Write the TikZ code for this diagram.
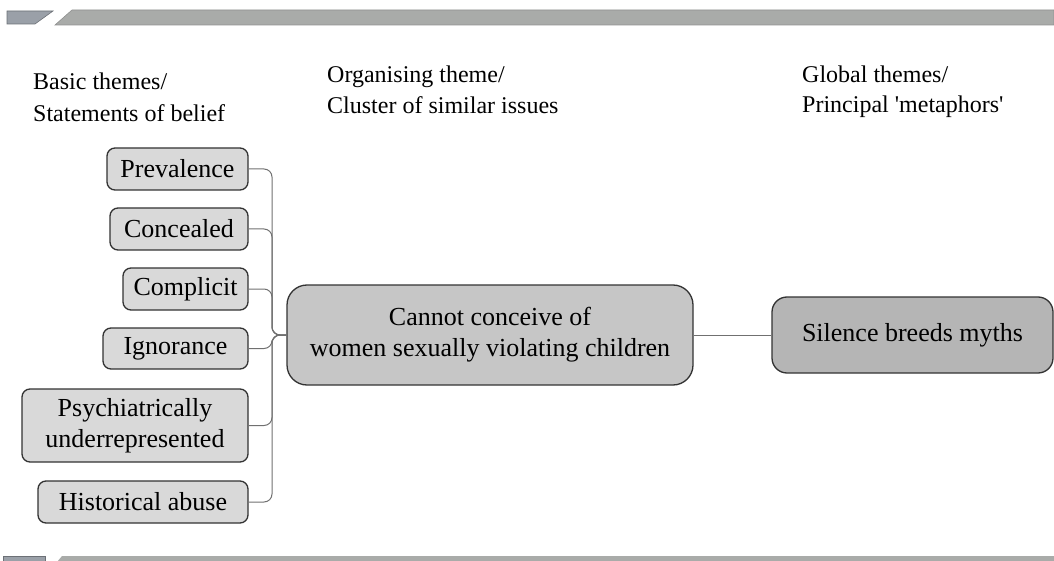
\documentclass[tikz,border=0pt]{standalone}
\usepackage{fontspec}
\setmainfont{Liberation Serif}
\definecolor{leafgray}{HTML}{D9D9D9}
\definecolor{midgray}{HTML}{C6C6C6}
\definecolor{topgray}{HTML}{B5B5B5}
\definecolor{linegray}{HTML}{707070}
\definecolor{bargray}{HTML}{A9ABA9}
\definecolor{barblue}{HTML}{9AA0A8}
\begin{document}
\begin{tikzpicture}[x=1pt,y=-1pt,
  box/.style={draw=black!80, line width=1.3pt, align=center, inner sep=0pt,
    font=\fontsize{26}{31}\selectfont},
  leaf/.style={box, fill=leafgray, rounded corners=8pt},
  org/.style={box, fill=midgray, rounded corners=20pt},
  glob/.style={box, fill=topgray, rounded corners=15pt},
  hdr/.style={anchor=base west, inner sep=0pt, font=\fontsize{24}{30}\selectfont},
  link/.style={draw=linegray, line width=1pt, rounded corners=8pt}]
\useasboundingbox (0,0) rectangle (1054,561);
% decorative bars
\fill[barblue, draw=barblue!70!black, line width=0.6pt] (7,11) -- (53,11) -- (35,24) -- (7,24) -- cycle;
\fill[bargray, draw=bargray!85!black, line width=0.6pt] (72,10) -- (1054,10) -- (1054,25) -- (55,25) -- cycle;
\fill[barblue, draw=barblue!70!black, line width=0.6pt] (3,556) -- (45,556) -- (45,562) -- (3,562) -- cycle;
\fill[bargray] (62,556) -- (1054,556) -- (1054,562) -- (57,562) -- cycle;
% headers
\node[hdr] (h1a) at (33,90) {Basic themes/};
\node[hdr] (h1b) at (33,122) {Statements of belief};
\node[hdr] (h2a) at (327,83) {Organising theme/};
\node[hdr] (h2b) at (327,114) {Cluster of similar issues};
\node[hdr] (h3a) at (802,83) {Global themes/};
\node[hdr] (h3b) at (802,113) {Principal \textquotesingle metaphors\textquotesingle};
% leaf nodes
\node[leaf, minimum width=141pt, minimum height=42pt] (prev) at (177.5,169) {Prevalence};
\node[leaf, minimum width=138pt, minimum height=42pt] (conc) at (179,229) {Concealed};
\node[leaf, minimum width=125pt, minimum height=42pt] (comp) at (185.5,289) {Complicit};
\node[leaf, minimum width=145pt, minimum height=41pt] (igno) at (175.5,348.5) {Ignorance};
\node[leaf, minimum width=226pt, minimum height=73pt] (psyc) at (135,425.5) {Psychiatrically\\underrepresented};
\node[leaf, minimum width=210pt, minimum height=42pt] (hist) at (143,502) {Historical abuse};
% organising and global
\node[org, minimum width=406pt, minimum height=100pt] (cent) at (490,335) {Cannot conceive of\\women sexually violating children};
\node[glob, minimum width=281pt, minimum height=76pt] (sil) at (912.5,335) {Silence breeds myths};
% connectors
\foreach \n in {prev,conc,comp,igno,psyc,hist}
  \draw[link] (\n.east) -- (\n.east -| 272,0) -- (272,335) -- (cent.west);
\draw[link] (cent.east) -- (sil.west);
\end{tikzpicture}
\end{document}
